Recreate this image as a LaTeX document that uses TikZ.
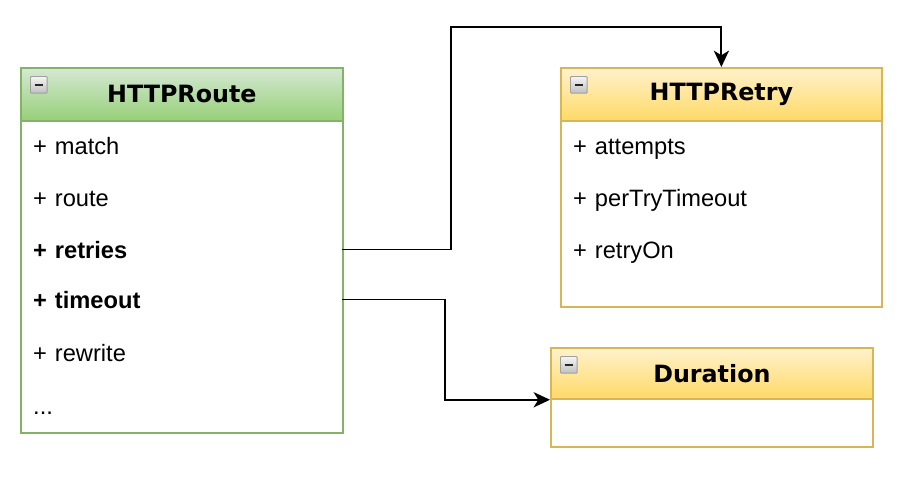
\documentclass[tikz,border=0pt]{standalone}
\usepackage{fontspec}
\setmainfont{Liberation Sans}
\newfontfamily\headfont{DejaVu Sans}
\usetikzlibrary{arrows.meta,positioning,calc}
\definecolor{greenline}{HTML}{82B366}
\definecolor{greentop}{HTML}{D5E8D4}
\definecolor{greenbot}{HTML}{97D077}
\definecolor{yellowline}{HTML}{D6B656}
\definecolor{yellowtop}{HTML}{FFF2CC}
\definecolor{yellowbot}{HTML}{FFD966}
\begin{document}
\begin{tikzpicture}[
    x=0.03cm, y=-0.03cm,
    head/.style={rectangle, draw, line width=1.5pt, anchor=north west, minimum height=1.59cm,
        font=\headfont\bfseries\fontsize{20.3}{24}\selectfont, inner sep=0pt},
    greenhead/.style={head, draw=greenline, top color=greentop, bottom color=greenbot},
    yellowhead/.style={head, draw=yellowline, top color=yellowtop, bottom color=yellowbot},
    body/.style={rectangle, draw, line width=1.5pt, fill=white, anchor=north west, inner sep=0pt},
    field/.style={anchor=base west, minimum width=9.66cm, text width=8.88cm, inner xsep=0.39cm,
        align=left, font=\fontsize{20.2}{24}\selectfont},
    toggle/.style={rectangle, draw=gray!75, line width=0.8pt, top color=gray!8, bottom color=gray!50,
        anchor=north west, minimum size=0.5cm, inner sep=0pt, rounded corners=0.8pt,
        path picture={\draw[line width=1.8pt, black!85] ($(path picture bounding box.west)!0.25!(path picture bounding box.east)$) -- ($(path picture bounding box.east)!0.25!(path picture bounding box.west)$);}},
    link/.style={draw, line width=1.6pt, -{Stealth[length=14pt, width=13pt, inset=4pt]}}
]
    \useasboundingbox (0,0) rectangle (906,476);

    % HTTPRoute
    \node[body, draw=greenline, minimum width=9.66cm, minimum height=9.36cm] (routebody) at (20,120) {};
    \node[greenhead, minimum width=9.66cm] (routehead) at (20,67) {HTTPRoute};
    \node[toggle] (routetoggle) at (30,76) {};
    \node[field] (match) at (20,154) {+ match};
    \node[field] (route) at (20,206) {+ route};
    \node[field] (retries) at (20,258) {\textbf{+ retries}};
    \node[field] (timeout) at (20,308) {\textbf{+ timeout}};
    \node[field] (rewrite) at (20,361) {+ rewrite};
    \node[field] (more) at (20,414) {...};

    % HTTPRetry
    \node[body, draw=yellowline, minimum width=9.63cm, minimum height=5.58cm] (retrybody) at (560,120) {};
    \node[yellowhead, minimum width=9.63cm] (retryhead) at (560,67) {HTTPRetry};
    \node[toggle] (retrytoggle) at (570,76) {};
    \node[field] (attempts) at (560,154) {+ attempts};
    \node[field] (pertry) at (560,206) {+ perTryTimeout};
    \node[field] (retryon) at (560,258) {+ retryOn};

    % Duration
    \node[body, draw=yellowline, minimum width=9.66cm, minimum height=1.44cm] (durbody) at (550,398) {};
    \node[yellowhead, minimum width=9.66cm, minimum height=1.53cm] (durhead) at (550,347) {Duration};
    \node[toggle] (durtoggle) at (560,356) {};

    % links
    \coordinate (jogA) at (451,27);
    \coordinate (jogB) at (445,398);
    \draw[link] (retries.east) -| (jogA) -| (retryhead.north);
    \draw[link] (timeout.east) -| (jogB) |- (durhead.south west);
\end{tikzpicture}
\end{document}
